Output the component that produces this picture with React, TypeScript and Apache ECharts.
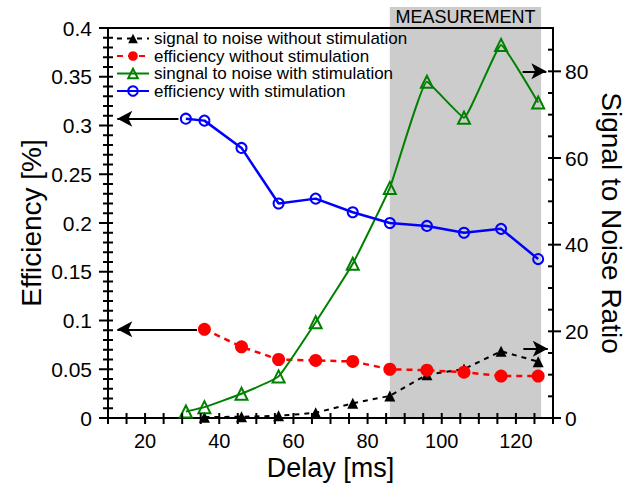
import React, { useEffect, useRef } from "react";
import * as echarts from "echarts";

// Delay values (ms) for the two measurement runs
const delaysStim = [31, 36, 46, 56, 66, 76, 86, 96, 106, 116, 126];
const delaysNoStim = [36, 46, 56, 66, 76, 86, 96, 106, 116, 126];

// Signal to noise ratio (right axis)
const snrNoStim = [0.2, 0.3, 0.5, 1.2, 3.4, 5.1, 10.0, 11.3, 15.4, 13.0];
const snrStim = [1.5, 2.5, 5.6, 9.6, 22.1, 35.6, 53.1, 77.6, 69.3, 86.1, 72.8];

// Efficiency in % (left axis)
const effNoStim = [0.091, 0.073, 0.06, 0.059, 0.058, 0.05, 0.049, 0.047, 0.043, 0.043];
const effStim = [0.307, 0.305, 0.277, 0.22, 0.225, 0.211, 0.2, 0.197, 0.19, 0.194, 0.163];

// Shaded measurement window on the delay axis
const measureWindow = [86, 126.8];

// Right-hand arrow levels on the SNR axis
const snrArrowLevels = [16, 80];

// Axis ranges and tick steps
const delayRange = [10, 130];
const delayTickStep = 5;
const effRange = [0, 0.4];
const effMajorStep = 0.05;
const effMinorStep = 0.01;
const snrRange = [0, 90];
const snrTickStep = 5;

const seriesNames = [
  "signal to noise without stimulation",
  "efficiency without stimulation",
  "singnal to noise with stimulation",
  "efficiency with stimulation",
];

const FONT = "'Liberation Sans', Arial, Helvetica, sans-serif";

const zip = (xs: number[], ys: number[]) => xs.map((x, i) => [x, ys[i]]);

const steps = (lo: number, hi: number, step: number) => {
  const out: number[] = [];
  const n = Math.round((hi - lo) / step);
  for (let i = 0; i <= n; i++) out.push(+(lo + i * step).toFixed(6));
  return out;
};

const arrowStyle = {
  silent: true,
  symbol: ["none", "arrow"],
  symbolSize: [12, 15],
  lineStyle: { color: "#000", width: 2, type: "solid" as const },
  label: { show: false },
  emphasis: { disabled: true },
};

const axisLineStyle = { color: "#000", width: 2 };

export default function App() {
  const ref = useRef<HTMLDivElement>(null);

  useEffect(() => {
    if (!ref.current) return;
    const chart = echarts.init(ref.current, undefined, { renderer: "svg" });

    const option: any = {
      animation: false,
      backgroundColor: "#fff",
      textStyle: { fontFamily: FONT },
      grid: {
        left: 108,
        right: 85,
        top: 28,
        bottom: 65,
        containLabel: false,
        outerBoundsMode: "none",
      },
      legend: {
        orient: "vertical",
        left: 116,
        top: 30,
        padding: 0,
        itemWidth: 32,
        itemHeight: 12,
        itemGap: 0.5,
        data: seriesNames,
        textStyle: { fontSize: 17, color: "#000", fontFamily: FONT },
      },
      xAxis: [
        {
          type: "value",
          min: delayRange[0],
          max: delayRange[1],
          interval: delayTickStep,
          name: "Delay [ms]",
          nameLocation: "middle",
          nameGap: 36,
          nameMoveOverlap: false,
          nameTextStyle: { fontSize: 27, color: "#000", fontFamily: FONT },
          axisLine: { show: true, onZero: false, lineStyle: { ...axisLineStyle } },
          axisTick: { show: false },
          axisLabel: {
            show: true,
            fontSize: 20,
            color: "#000",
            margin: 13,
            fontFamily: FONT,
            formatter: (v: number) => (v % 20 === 0 ? String(v) : ""),
          },
          splitLine: { show: false },
        },
        {
          type: "value",
          position: "top",
          min: delayRange[0],
          max: delayRange[1],
          axisLine: { show: true, onZero: false, lineStyle: { ...axisLineStyle } },
          axisTick: { show: false },
          axisLabel: { show: false },
          splitLine: { show: false },
        },
      ],
      yAxis: [
        {
          type: "value",
          position: "left",
          min: effRange[0],
          max: effRange[1],
          interval: effMajorStep,
          name: "Efficiency [%]",
          nameLocation: "middle",
          nameGap: 63,
          nameMoveOverlap: false,
          nameTextStyle: { fontSize: 28, color: "#000", fontFamily: FONT },
          axisLine: { show: true, onZero: false, lineStyle: { ...axisLineStyle } },
          axisTick: { show: false },
          axisLabel: { show: true, fontSize: 21, color: "#000", margin: 16, fontFamily: FONT },
          splitLine: { show: false },
        },
        {
          type: "value",
          position: "right",
          min: snrRange[0],
          max: snrRange[1],
          interval: snrTickStep,
          name: "Signal to Noise Ratio",
          nameLocation: "middle",
          nameGap: 44,
          nameRotate: -90,
          nameMoveOverlap: false,
          nameTextStyle: { fontSize: 28, color: "#000", fontFamily: FONT },
          axisLine: { show: true, onZero: false, lineStyle: { ...axisLineStyle } },
          axisTick: { show: false },
          axisLabel: {
            show: true,
            fontSize: 21,
            color: "#000",
            margin: 12,
            fontFamily: FONT,
            formatter: (v: number) => (v % 20 === 0 ? String(v) : ""),
          },
          splitLine: { show: false },
        },
      ],
      series: [
        {
          name: seriesNames[0],
          type: "line",
          yAxisIndex: 1,
          data: zip(delaysNoStim, snrNoStim),
          symbol: "triangle",
          symbolSize: 11,
          z: 3,
          lineStyle: { color: "#000", width: 2, type: [5, 5] },
          itemStyle: { color: "#000" },
          markLine: {
            ...arrowStyle,
            data: [[{ coord: [122, snrArrowLevels[0]] }, { coord: [128.6, snrArrowLevels[0]] }]],
          },
        },
        {
          name: seriesNames[1],
          type: "line",
          yAxisIndex: 0,
          data: zip(delaysNoStim, effNoStim),
          symbol: "circle",
          symbolSize: 13,
          z: 3,
          lineStyle: { color: "#ff0000", width: 2.5, type: [6, 5] },
          itemStyle: { color: "#ff0000" },
          markLine: {
            ...arrowStyle,
            data: [[{ coord: [delaysNoStim[0] - 2, effNoStim[0]] }, { coord: [12.5, effNoStim[0]] }]],
          },
        },
        {
          name: seriesNames[2],
          type: "line",
          yAxisIndex: 1,
          data: zip(delaysStim, snrStim),
          symbol: "triangle",
          symbolSize: 12,
          smooth: 0.1,
          z: 4,
          lineStyle: { color: "#008000", width: 2 },
          itemStyle: { color: "rgba(0,0,0,0)", borderColor: "#008000", borderWidth: 2 },
          markLine: {
            ...arrowStyle,
            data: [[{ coord: [121.8, snrArrowLevels[1]] }, { coord: [128.2, snrArrowLevels[1]] }]],
          },
        },
        {
          name: seriesNames[3],
          type: "line",
          yAxisIndex: 0,
          data: zip(delaysStim, effStim),
          symbol: "circle",
          symbolSize: 10,
          z: 4,
          lineStyle: { color: "#0000ff", width: 2.5 },
          itemStyle: { color: "rgba(0,0,0,0)", borderColor: "#0000ff", borderWidth: 2 },
          markLine: {
            ...arrowStyle,
            data: [[{ coord: [delaysStim[0] - 2, effStim[0]] }, { coord: [12.5, effStim[0]] }]],
          },
        },
      ],
    };

    chart.setOption(option);

    const px = (v: number) => chart.convertToPixel({ xAxisIndex: 0 }, v) as number;
    const pyEff = (v: number) => chart.convertToPixel({ yAxisIndex: 0 }, v) as number;
    const pySnr = (v: number) => chart.convertToPixel({ yAxisIndex: 1 }, v) as number;

    const xAxisY = pyEff(effRange[0]);
    const yPlotTop = pyEff(effRange[1]);
    const leftX = px(delayRange[0]);
    const rightX = px(delayRange[1]);

    const tick = (x1: number, y1: number, x2: number, y2: number) => ({
      type: "line",
      silent: true,
      z: 5,
      shape: { x1, y1, x2, y2 },
      style: { stroke: "#000", lineWidth: 2 },
    });

    const ticks: any[] = [];
    // Delay axis: ticks crossing the axis line
    steps(delayRange[0], delayRange[1], delayTickStep).forEach((v) => {
      const x = px(v);
      ticks.push(tick(x, xAxisY - 5, x, xAxisY + 6));
    });
    // Efficiency axis: minor ticks cross, labelled ticks reach further out
    steps(effRange[0], effRange[1], effMinorStep).forEach((v) => {
      const y = pyEff(v);
      const major = Math.abs(v / effMajorStep - Math.round(v / effMajorStep)) < 1e-6;
      ticks.push(tick(leftX - (major ? 9 : 5), y, leftX + 5, y));
    });
    // SNR axis: inward ticks, labelled ones also outward
    steps(snrRange[0], snrRange[1], snrTickStep).forEach((v) => {
      const y = pySnr(v);
      const major = v % 20 === 0;
      ticks.push(tick(rightX - 5, y, rightX + (major ? 8 : 0), y));
    });

    // Measurement window shading with its header label
    const xL = px(measureWindow[0]);
    const xR = px(measureWindow[1]);
    const yTop = yPlotTop - 21;
    chart.setOption({
      graphic: [
        {
          type: "rect",
          z: -10,
          silent: true,
          shape: { x: xL, y: yTop, width: xR - xL, height: xAxisY - yTop },
          style: { fill: "#cccccc" },
        },
        {
          type: "text",
          z: 10,
          silent: true,
          x: (xL + xR) / 2,
          y: yTop + 10,
          style: {
            text: "MEASUREMENT",
            fontSize: 18,
            fontFamily: FONT,
            fill: "#000",
            textAlign: "center",
            textVerticalAlign: "middle",
          },
        },
        ...ticks,
      ],
    });

    return () => chart.dispose();
  }, []);

  return (
    <div
      ref={ref}
      style={{ position: "fixed", left: 0, top: 0, width: 638, height: 483 }}
    />
  );
}
